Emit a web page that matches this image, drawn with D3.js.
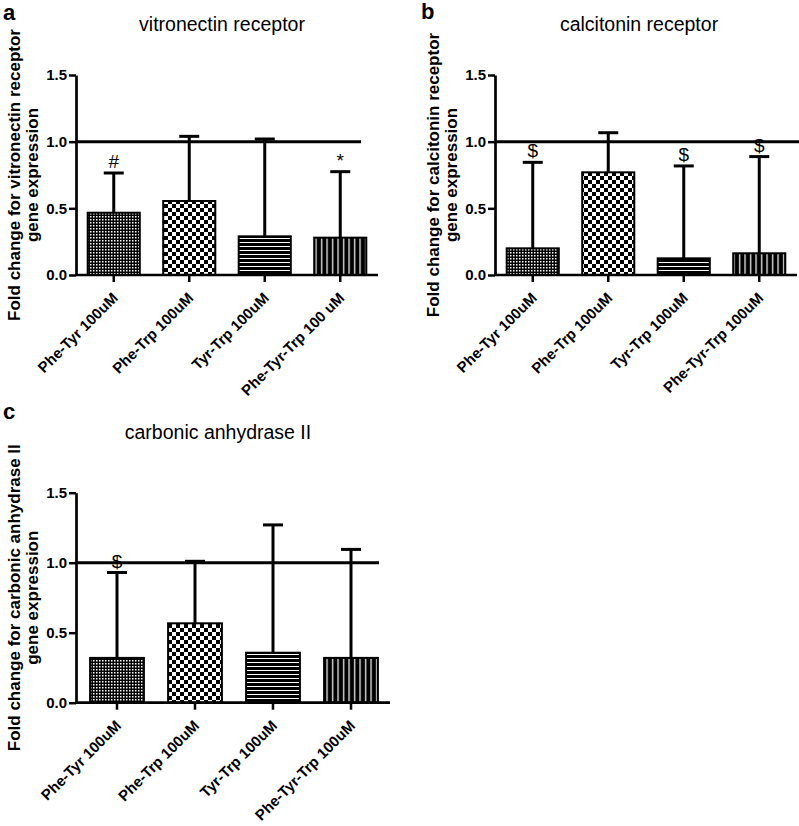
<!DOCTYPE html>
<html><head><meta charset="utf-8">
<script src="https://cdn.jsdelivr.net/npm/d3@7"></script>
<style>
body{margin:0;background:#fff}
svg{display:block}
text{font-family:"Liberation Sans",Arial,Helvetica,sans-serif;fill:#000}
</style>
</head><body>
<svg id="chart" width="799" height="826"></svg>
<script>
// ---------------- DATA ----------------
const categoriesA = ["Phe-Tyr 100uM", "Phe-Trp 100uM", "Tyr-Trp 100uM", "Phe-Tyr-Trp 100 uM"];
const categoriesB = ["Phe-Tyr 100uM", "Phe-Trp 100uM", "Tyr-Trp 100uM", "Phe-Tyr-Trp 100uM"];
const categoriesC = ["Phe-Tyr 100uM", "Phe-Trp 100uM", "Tyr-Trp 100uM", "Phe-Tyr-Trp 100uM"];

const vitronectinMean = [0.467, 0.555, 0.29, 0.28];
const vitronectinSD   = [0.298, 0.485, 0.73, 0.495];
const vitronectinMarks = ["#", "", "", "*"];

const calcitoninMean = [0.20, 0.77, 0.125, 0.163];
const calcitoninSD   = [0.645, 0.297, 0.693, 0.725];
const calcitoninMarks = ["$", "", "$", "$"];

const carbonicMean = [0.32, 0.567, 0.357, 0.32];
const carbonicSD   = [0.61, 0.443, 0.913, 0.775];
const carbonicMarks = ["$", "", "", ""];

const yTicks = [0, 0.5, 1.0, 1.5];
const yTickLabels = ["0.0", "0.5", "1.0", "1.5"];
const referenceLevel = 1.0;

const titles = ["vitronectin receptor", "calcitonin receptor", "carbonic anhydrase II"];
const yLabels = [
  ["Fold change for vitronectin receptor", "gene expression"],
  ["Fold change for calcitonin receptor", "gene expression"],
  ["Fold change for carbonic anhydrase II", "gene expression"]
];
const panelLetters = ["a", "b", "c"];

// ---------------- DRAWING ----------------
const svg = d3.select("#chart");
const defs = svg.append("defs");

function makePattern(id, w, h, bg, shapes) {
  const p = defs.append("pattern").attr("id", id)
    .attr("patternUnits", "userSpaceOnUse").attr("width", w).attr("height", h);
  p.append("rect").attr("width", w).attr("height", h).attr("fill", bg);
  shapes.forEach(s => p.append("rect").attr("x", s[0]).attr("y", s[1])
    .attr("width", s[2]).attr("height", s[3]).attr("fill", s[4]));
}
makePattern("pat0", 3, 3, "#000", [[0, 0, 1.5, 1.5, "#fff"]]);
makePattern("pat1", 8, 8, "#fff", [[0, 0, 4, 4, "#000"], [4, 4, 4, 4, "#000"]]);
makePattern("pat2", 4, 4, "#000", [[0, 2, 4, 1, "#fff"]]);
makePattern("pat3", 5.5, 5, "#000", [[2, 0, 1.2, 5, "#fff"]]);

const panels = [
  {cats: categoriesA, mean: vitronectinMean, sd: vitronectinSD, marks: vitronectinMarks,
   left: 76, bandLeft: 76, right: 378, top: 75, bottom: 275, refEnd: 361,
   titleX: 222, titleY: 31, letterX: 3, letterY: 20},
  {cats: categoriesB, mean: calcitoninMean, sd: calcitoninSD, marks: calcitoninMarks,
   left: 495, bandLeft: 495, right: 797, top: 75, bottom: 275, refEnd: 799,
   titleX: 639, titleY: 31, letterX: 421, letterY: 19},
  {cats: categoriesC, mean: carbonicMean, sd: carbonicSD, marks: carbonicMarks,
   left: 76, bandLeft: 78, right: 390, top: 492.7, bottom: 702.7, refEnd: 379,
   titleX: 218, titleY: 439, letterX: 3, letterY: 419}
];

panels.forEach((p, pi) => {
  const g = svg.append("g");
  const x = d3.scaleBand().domain(p.cats).range([p.bandLeft, p.right])
    .paddingInner(0.31).paddingOuter(0.155);
  const y = d3.scaleLinear().domain([0, 1.5]).range([p.bottom, p.top]);
  const rows = p.cats.map((c, i) => ({cat: c, mean: p.mean[i], sd: p.sd[i], mark: p.marks[i], i}));

  // bars
  g.selectAll("rect.bar").data(rows).join("rect").attr("class", "bar")
    .attr("x", d => x(d.cat)).attr("y", d => y(d.mean))
    .attr("width", x.bandwidth()).attr("height", d => y(0) - y(d.mean))
    .attr("fill", d => `url(#pat${d.i})`).attr("stroke", "#000").attr("stroke-width", 2);

  // error bars (upper only)
  const cx = d => x(d.cat) + x.bandwidth() / 2;
  g.selectAll("line.err").data(rows).join("line").attr("class", "err")
    .attr("x1", cx).attr("x2", cx)
    .attr("y1", d => y(d.mean)).attr("y2", d => y(d.mean + d.sd))
    .attr("stroke", "#000").attr("stroke-width", 3);
  g.selectAll("line.cap").data(rows).join("line").attr("class", "cap")
    .attr("x1", d => cx(d) - 10).attr("x2", d => cx(d) + 10)
    .attr("y1", d => y(d.mean + d.sd)).attr("y2", d => y(d.mean + d.sd))
    .attr("stroke", "#000").attr("stroke-width", 3);

  // significance marks
  g.selectAll("text.mark").data(rows.filter(d => d.mark)).join("text").attr("class", "mark")
    .attr("x", cx).attr("y", d => y(d.mean + d.sd) - 5)
    .attr("text-anchor", "middle").attr("font-size", 19).text(d => d.mark);

  // reference line
  g.append("line").attr("x1", p.left).attr("x2", p.refEnd)
    .attr("y1", y(referenceLevel)).attr("y2", y(referenceLevel))
    .attr("stroke", "#000").attr("stroke-width", 3);

  // y axis
  const ya = g.append("g").attr("transform", `translate(${p.left},0)`)
    .call(d3.axisLeft(y).tickValues(yTicks).tickFormat((d, i) => yTickLabels[i])
      .tickSizeInner(7).tickSizeOuter(0).tickPadding(2));
  ya.select(".domain").attr("stroke", "#000").attr("stroke-width", 2.7);
  ya.selectAll(".tick line").attr("stroke", "#000").attr("stroke-width", 2.5);
  ya.selectAll(".tick text").attr("font-size", 15).attr("font-weight", "bold")
    .attr("font-family", '"Liberation Sans", Arial, sans-serif').attr("fill", "#000");

  // x axis
  const xa = g.append("g").attr("transform", `translate(0,${p.bottom})`)
    .call(d3.axisBottom(x).tickSizeInner(7).tickSizeOuter(0));
  xa.select(".domain").remove();
  xa.append("line").attr("x1", p.left).attr("x2", p.right).attr("y1", 0).attr("y2", 0)
    .attr("stroke", "#000").attr("stroke-width", 2.7);
  xa.selectAll(".tick line").attr("stroke", "#000").attr("stroke-width", 2.5);
  xa.selectAll(".tick text").attr("x", 0).attr("y", 0).attr("dy", 0)
    .attr("transform", "translate(5,24) rotate(-45)")
    .attr("text-anchor", "end").attr("font-size", 15).attr("font-weight", "bold")
    .attr("font-family", '"Liberation Sans", Arial, sans-serif').attr("fill", "#000");

  // title
  g.append("text").attr("x", p.titleX).attr("y", p.titleY).attr("text-anchor", "middle")
    .attr("font-size", 19.5).text(titles[pi]);

  // y label (two lines)
  const cy = (p.top + p.bottom) / 2;
  yLabels[pi].forEach((t, li) => {
    const bx = p.left - 56 + li * 18;
    g.append("text").attr("transform", `translate(${bx},${cy}) rotate(-90)`)
      .attr("text-anchor", "middle").attr("font-size", 17).attr("font-weight", "bold").text(t);
  });

  // panel letter
  g.append("text").attr("x", p.letterX).attr("y", p.letterY)
    .attr("font-size", 22).attr("font-weight", "bold").text(panelLetters[pi]);
});
</script>
</body></html>
